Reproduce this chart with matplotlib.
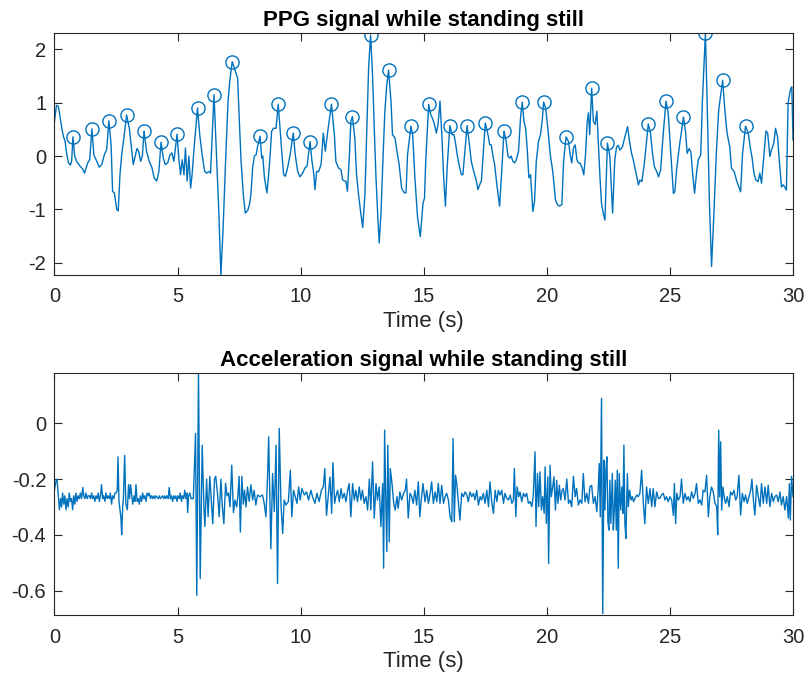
import numpy as np
import matplotlib
matplotlib.use("Agg")
import matplotlib.pyplot as plt

plt.rcParams['font.family'] = ['Liberation Sans', 'DejaVu Sans']
plt.rcParams['axes.unicode_minus'] = False

# ---------------- PPG signal (time s, value) ----------------
ppg_t = [0.00, 0.08, 0.16, 0.22, 0.30, 0.36, 0.43, 0.50, 0.57, 0.65, 0.70, 0.75, 0.82, 0.90, 1.04, 1.14, 1.22, 1.35, 1.43, 1.52,
         1.60, 1.72, 1.82, 1.92, 2.03, 2.12, 2.21, 2.30, 2.36, 2.43, 2.53, 2.59, 2.66, 2.73, 2.82, 2.93, 3.04, 3.14, 3.20, 3.28,
         3.35, 3.42, 3.50, 3.57, 3.64, 3.74, 3.85, 3.96, 4.05, 4.15, 4.24, 4.33, 4.42, 4.50, 4.60, 4.69, 4.77, 4.85, 4.98, 5.05,
         5.12, 5.19, 5.26, 5.32, 5.39, 5.46, 5.53, 5.59, 5.66, 5.81, 5.90, 6.00, 6.10, 6.18, 6.26, 6.34, 6.48, 6.58, 6.68, 6.76,
         6.85, 6.95, 7.05, 7.12, 7.22, 7.44, 7.51, 7.58, 7.67, 7.75, 7.85, 7.92, 7.98, 8.05, 8.12, 8.19, 8.25, 8.35, 8.42, 8.46,
         8.53, 8.63, 8.70, 8.76, 8.82, 8.89, 9.00, 9.09, 9.16, 9.23, 9.31, 9.38, 9.47, 9.57, 9.70, 9.78, 9.88, 9.97, 10.08, 10.18,
         10.26, 10.38, 10.46, 10.53, 10.58, 10.65, 10.73, 10.83, 10.92, 11.00, 11.10, 11.25, 11.37, 11.43, 11.53, 11.64, 11.70, 11.77, 11.84, 11.90,
         11.98, 12.04, 12.10, 12.20, 12.27, 12.35, 12.45, 12.52, 12.61, 12.69, 12.76, 12.84, 12.92, 12.99, 13.06, 13.13, 13.19, 13.26, 13.33, 13.42,
         13.50, 13.57, 13.67, 13.73, 13.83, 13.91, 14.00, 14.10, 14.21, 14.28, 14.34, 14.48, 14.55, 14.64, 14.75, 14.86, 14.93, 14.97, 15.03, 15.08,
         15.20, 15.28, 15.35, 15.42, 15.51, 15.58, 15.66, 15.74, 15.81, 15.88, 15.95, 16.06, 16.15, 16.23, 16.30, 16.36, 16.46, 16.53, 16.59, 16.66,
         16.76, 16.84, 16.93, 17.03, 17.14, 17.20, 17.27, 17.34, 17.41, 17.50, 17.61, 17.68, 17.74, 17.81, 17.88, 17.97, 18.08, 18.15, 18.26, 18.35,
         18.42, 18.49, 18.55, 18.62, 18.69, 18.76, 18.85, 18.93, 19.00, 19.07, 19.14, 19.20, 19.27, 19.34, 19.43, 19.50, 19.57, 19.66, 19.74, 19.81,
         19.87, 19.95, 20.04, 20.14, 20.24, 20.35, 20.43, 20.51, 20.61, 20.68, 20.78, 20.88, 20.95, 21.01, 21.08, 21.15, 21.22, 21.28, 21.35, 21.43,
         21.50, 21.57, 21.64, 21.69, 21.74, 21.82, 21.89, 21.96, 22.03, 22.09, 22.16, 22.22, 22.29, 22.36, 22.46, 22.56, 22.67, 22.76, 22.83, 22.90,
         22.97, 23.07, 23.17, 23.28, 23.35, 23.44, 23.51, 23.62, 23.72, 23.78, 23.86, 23.96, 24.12, 24.21, 24.29, 24.37, 24.46, 24.54, 24.62, 24.73,
         24.84, 24.93, 25.00, 25.07, 25.14, 25.20, 25.27, 25.38, 25.55, 25.64, 25.70, 25.78, 25.85, 25.92, 26.00, 26.08, 26.15, 26.25, 26.32, 26.44,
         26.51, 26.60, 26.69, 26.78, 26.89, 26.98, 27.14, 27.23, 27.32, 27.43, 27.50, 27.61, 27.70, 27.77, 27.87, 27.95, 28.07, 28.18, 28.27, 28.34,
         28.41, 28.49, 28.58, 28.65, 28.72, 28.81, 28.90, 28.97, 29.06, 29.12, 29.22, 29.29, 29.37, 29.43, 29.53, 29.60, 29.66, 29.73, 29.80, 29.89,
         29.95, 30.00]
ppg_v = [0.65, 0.95, 0.93, 0.75, 0.52, 0.37, 0.28, 0.03, -0.13, -0.17, -0.08, 0.36, 0.00, -0.10, -0.19, -0.24, -0.32, -0.13, -0.07, 0.51,
         0.02, -0.10, -0.21, -0.16, 0.03, 0.12, 0.66, 0.21, -0.66, -0.69, -1.00, -1.03, -0.35, 0.03, 0.34, 0.77, 0.52, 0.09, -0.16, 0.00,
         0.14, 0.09, -0.10, 0.00, 0.47, 0.09, -0.10, -0.22, -0.41, -0.47, -0.29, 0.26, -0.04, -0.16, -0.13, 0.02, 0.06, -0.10, 0.41, -0.04,
         -0.35, -0.07, -0.35, 0.15, -0.47, 0.00, -0.60, -0.35, 0.09, 0.90, 0.40, 0.02, -0.29, -0.32, -0.29, -0.32, 1.15, 0.02, -1.10, -2.23,
         -1.35, -0.10, 1.02, 1.40, 1.77, 1.46, 0.65, -0.10, -0.72, -1.07, -1.02, -0.91, -0.72, -0.22, 0.00, 0.02, 0.18, 0.37, -0.04, 0.00,
         -0.41, -0.69, -0.35, 0.02, 0.46, 0.52, 0.52, 0.97, 0.52, 0.09, -0.35, -0.38, -0.22, 0.02, 0.43, 0.02, -0.29, -0.39, -0.32, -0.22,
         -0.19, 0.27, -0.10, -0.32, -0.63, -0.29, -0.29, -0.16, 0.43, 0.09, 0.46, 0.97, 0.40, -0.10, -0.22, -0.26, -0.44, -0.47, -0.47, -0.66,
         0.02, 0.65, 0.74, 0.34, -0.35, -0.72, -1.10, -1.34, -0.72, 0.52, 1.65, 2.27, 1.52, 0.52, -0.41, -1.10, -1.63, -1.10, -0.22, 0.84,
         1.34, 1.61, 1.02, 0.40, 0.34, 0.09, -0.16, -0.60, -0.69, -0.69, 0.02, 0.56, 0.40, -0.41, -1.16, -1.51, -1.10, -0.88, -0.79, -0.10,
         0.97, 0.78, 0.71, 0.62, 0.43, 0.59, 1.03, 0.34, -0.41, -0.94, -0.22, 0.57, 0.40, 0.40, 0.21, 0.02, -0.22, -0.35, -0.35, 0.02,
         0.57, 0.27, -0.10, -0.29, -0.47, -0.63, -0.54, -0.47, 0.02, 0.62, 0.40, 0.21, 0.21, 0.00, -0.16, -0.54, -0.94, -0.41, 0.47, 0.27,
         0.00, -0.04, 0.00, -0.10, -0.13, -0.07, 0.09, 0.71, 1.01, 0.65, 0.52, 0.15, -0.41, -0.35, -1.04, -0.85, -0.10, 0.27, 0.40, 0.65,
         1.01, 0.90, 0.52, 0.02, -0.29, -0.82, -0.91, -0.94, -0.91, -0.10, 0.36, 0.27, 0.02, -0.13, 0.15, 0.21, -0.07, -0.13, -0.13, -0.22,
         -0.35, 0.02, 0.65, 0.81, 0.40, 1.27, 0.65, 0.59, 0.84, 0.27, -0.41, -0.89, -1.07, -1.20, 0.24, -0.01, -1.07, -0.07, 0.17, 0.20,
         0.11, 0.17, 0.36, 0.55, 0.30, 0.05, -0.07, -0.32, -0.54, -0.45, -0.48, -0.14, 0.60, 0.43, 0.05, -0.20, -0.29, -0.39, -0.26, 0.43,
         1.03, 0.80, 0.30, -0.20, -0.70, -0.67, -0.26, 0.17, 0.73, 0.43, 0.05, 0.14, 0.08, -0.32, -0.70, -0.32, -0.07, 0.02, 1.05, 2.30,
         1.05, -0.82, -2.07, -1.14, 0.11, 0.86, 1.42, 0.86, 0.43, 0.17, -0.23, -0.29, -0.45, -0.54, -0.67, 0.05, 0.56, 0.43, 0.14, -0.04,
         -0.32, -0.45, -0.48, -0.32, -0.51, -0.01, 0.47, 0.43, -0.01, 0.11, 0.24, 0.52, 0.36, -0.01, -0.58, -0.54, -0.58, -0.64, 0.99, 1.24,
         1.30, 0.30]

# detected peaks (time s, value)
peak_t = [0.75, 1.52, 2.21, 2.93, 3.64, 4.33, 4.98, 5.81, 6.48, 7.22, 8.35, 9.09, 9.70, 10.38, 11.25, 12.10, 12.84, 13.57,
          14.48, 15.20, 16.06, 16.76, 17.50, 18.26, 19.00, 19.87, 20.78, 21.82, 22.46, 24.12, 24.84, 25.55, 26.44, 27.14, 28.07]
peak_v = [0.36, 0.51, 0.66, 0.77, 0.47, 0.26, 0.41, 0.90, 1.15, 1.77, 0.37, 0.97, 0.43, 0.27, 0.97, 0.74, 2.27, 1.61,
          0.56, 0.97, 0.57, 0.57, 0.62, 0.47, 1.01, 1.01, 0.36, 1.27, 0.24, 0.60, 1.03, 0.73, 2.30, 1.42, 0.56]

# ---------------- Acceleration signal (time s, value) ----------------
acc_pairs = [
 (0.00,-0.24),(0.05,-0.21),(0.10,-0.20),(0.15,-0.25),(0.20,-0.31),(0.25,-0.27),(0.29,-0.30),(0.33,-0.25),(0.38,-0.29),(0.42,-0.26),
 (0.47,-0.31),(0.51,-0.27),(0.56,-0.30),(0.60,-0.25),(0.65,-0.28),(0.69,-0.27),(0.74,-0.31),(0.78,-0.26),(0.83,-0.29),(0.87,-0.25),
 (0.92,-0.28),(0.96,-0.26),(1.01,-0.27),(1.05,-0.25),(1.10,-0.27),(1.15,-0.23),(1.19,-0.26),(1.24,-0.27),(1.28,-0.25),(1.33,-0.27),
 (1.37,-0.26),(1.42,-0.26),(1.46,-0.27),(1.51,-0.25),(1.55,-0.27),(1.60,-0.26),(1.64,-0.28),(1.69,-0.26),(1.73,-0.27),(1.78,-0.25),
 (1.82,-0.28),(1.87,-0.26),(1.91,-0.22),(1.96,-0.27),(2.00,-0.26),(2.05,-0.28),(2.09,-0.25),(2.14,-0.27),(2.18,-0.26),(2.23,-0.27),
 (2.27,-0.25),(2.32,-0.29),(2.36,-0.26),(2.41,-0.27),(2.46,-0.25),(2.50,-0.25),(2.55,-0.24),(2.58,-0.12),(2.62,-0.28),(2.66,-0.31),
 (2.70,-0.34),(2.73,-0.40),(2.77,-0.30),(2.80,-0.27),(2.85,-0.115),(2.90,-0.29),(2.96,-0.31),(3.01,-0.22),(3.05,-0.27),(3.09,-0.22),
 (3.14,-0.26),(3.18,-0.29),(3.23,-0.26),(3.27,-0.28),(3.31,-0.22),(3.36,-0.28),(3.40,-0.27),(3.45,-0.29),(3.49,-0.26),(3.54,-0.28),
 (3.58,-0.25),(3.63,-0.27),(3.67,-0.26),(3.72,-0.28),(3.76,-0.25),(3.81,-0.26),(3.85,-0.25),(3.90,-0.27),(3.94,-0.26),(3.99,-0.27),
 (4.03,-0.26),(4.08,-0.27),(4.12,-0.26),(4.17,-0.265),(4.21,-0.27),(4.26,-0.26),(4.30,-0.27),(4.35,-0.265),(4.39,-0.26),(4.44,-0.27),
 (4.48,-0.26),(4.53,-0.27),(4.57,-0.26),(4.62,-0.27),(4.66,-0.23),(4.71,-0.27),(4.75,-0.26),(4.80,-0.28),(4.84,-0.26),(4.89,-0.27),
 (4.93,-0.26),(4.98,-0.28),(5.02,-0.26),(5.07,-0.27),(5.11,-0.25),(5.16,-0.28),(5.20,-0.26),(5.25,-0.27),(5.29,-0.24),(5.34,-0.27),
 (5.38,-0.25),(5.41,-0.32),(5.45,-0.26),(5.50,-0.25),(5.55,-0.27),(5.60,-0.27),(5.64,-0.27),(5.73,-0.036),(5.78,-0.617),(5.85,0.185),
 (5.92,-0.557),(6.00,-0.078),(6.07,-0.30),(6.11,-0.37),(6.18,-0.20),(6.24,-0.335),(6.31,-0.19),(6.38,-0.29),(6.43,-0.36),(6.50,-0.20),
 (6.55,-0.19),(6.62,-0.25),(6.69,-0.335),(6.76,-0.20),(6.82,-0.30),(6.88,-0.36),(6.95,-0.215),(7.01,-0.26),(7.07,-0.25),(7.13,-0.30),
 (7.20,-0.15),(7.27,-0.32),(7.33,-0.275),(7.40,-0.30),(7.45,-0.26),(7.50,-0.19),(7.55,-0.39),(7.61,-0.19),(7.67,-0.29),(7.72,-0.24),
 (7.78,-0.30),(7.84,-0.228),(7.91,-0.28),(7.98,-0.22),(8.05,-0.275),(8.11,-0.24),(8.18,-0.293),(8.25,-0.257),(8.34,-0.263),(8.45,-0.257),
 (8.52,-0.287),(8.59,-0.335),(8.66,-0.18),(8.70,-0.048),(8.79,-0.45),(8.86,-0.18),(8.93,-0.317),(9.00,-0.078),(9.06,-0.575),(9.13,-0.018),
 (9.20,-0.29),(9.27,-0.395),(9.33,-0.275),(9.40,-0.293),(9.50,-0.281),(9.58,-0.168),(9.64,-0.335),(9.71,-0.24),(9.78,-0.263),(9.85,-0.287),
 (9.92,-0.228),(9.98,-0.275),(10.05,-0.234),(10.15,-0.257),(10.24,-0.246),(10.32,-0.275),(10.42,-0.24),(10.48,-0.263),(10.58,-0.287),(10.66,-0.251),
 (10.75,-0.281),(10.84,-0.24),(10.92,-0.228),(10.98,-0.162),(11.05,-0.33),(11.12,-0.263),(11.19,-0.192),(11.26,-0.323),(11.31,-0.141),(11.38,-0.287),
 (11.43,-0.263),(11.50,-0.24),(11.57,-0.281),(11.64,-0.234),(11.70,-0.269),(11.77,-0.251),(11.84,-0.281),(11.91,-0.24),(11.97,-0.216),(12.04,-0.335),
 (12.11,-0.216),(12.18,-0.275),(12.24,-0.24),(12.31,-0.281),(12.38,-0.228),(12.45,-0.275),(12.51,-0.24),(12.58,-0.287),(12.65,-0.263),(12.72,-0.311),
 (12.79,-0.20),(12.85,-0.311),(12.92,-0.138),(12.99,-0.34),(13.06,-0.216),(13.12,-0.275),(13.19,-0.228),(13.26,-0.37),(13.33,-0.216),(13.37,-0.52),
 (13.41,-0.024),(13.46,-0.287),(13.50,-0.46),(13.54,-0.078),(13.60,-0.425),(13.64,-0.162),(13.71,-0.216),(13.78,-0.287),(13.84,-0.311),(13.91,-0.263),
 (13.96,-0.305),(14.03,-0.246),(14.10,-0.275),(14.18,-0.251),(14.25,-0.24),(14.30,-0.20),(14.37,-0.34),(14.44,-0.251),(14.51,-0.263),(14.57,-0.287),
 (14.64,-0.24),(14.71,-0.293),(14.78,-0.21),(14.84,-0.335),(14.91,-0.263),(14.97,-0.216),(15.05,-0.281),(15.12,-0.24),(15.19,-0.287),(15.26,-0.251),
 (15.32,-0.21),(15.39,-0.287),(15.46,-0.246),(15.53,-0.281),(15.59,-0.216),(15.66,-0.287),(15.73,-0.222),(15.80,-0.287),(15.87,-0.263),(15.93,-0.251),
 (16.00,-0.275),(16.07,-0.335),(16.14,-0.353),(16.19,-0.054),(16.24,-0.353),(16.29,-0.186),(16.34,-0.216),(16.41,-0.287),(16.47,-0.347),(16.54,-0.251),
 (16.61,-0.263),(16.68,-0.246),(16.75,-0.257),(16.81,-0.281),(16.88,-0.246),(16.95,-0.263),(17.02,-0.251),(17.08,-0.275),(17.15,-0.24),(17.22,-0.293),
 (17.29,-0.263),(17.35,-0.275),(17.42,-0.251),(17.49,-0.287),(17.56,-0.24),(17.63,-0.299),(17.69,-0.21),(17.76,-0.281),(17.83,-0.323),(17.90,-0.24),
 (17.97,-0.281),(18.03,-0.24),(18.10,-0.257),(18.17,-0.24),(18.24,-0.287),(18.30,-0.251),(18.37,-0.269),(18.44,-0.275),(18.51,-0.257),(18.58,-0.287),
 (18.64,-0.275),(18.68,-0.162),(18.74,-0.335),(18.79,-0.228),(18.86,-0.263),(18.91,-0.246),(18.98,-0.281),(19.05,-0.251),(19.12,-0.263),(19.18,-0.251),
 (19.25,-0.287),(19.32,-0.281),(19.39,-0.299),(19.45,-0.257),(19.52,-0.102),(19.56,-0.37),(19.62,-0.18),(19.67,-0.299),(19.72,-0.174),(19.78,-0.311),
 (19.83,-0.263),(19.89,-0.323),(19.93,-0.156),(19.98,-0.359),(20.04,-0.192),(20.07,-0.503),(20.13,-0.15),(20.18,-0.263),(20.24,-0.228),(20.29,-0.192),
 (20.35,-0.311),(20.40,-0.204),(20.45,-0.287),(20.51,-0.222),(20.56,-0.275),(20.62,-0.24),(20.67,-0.234),(20.74,-0.275),(20.81,-0.20),(20.88,-0.287),
 (20.94,-0.275),(21.01,-0.299),(21.08,-0.19),(21.15,-0.263),(21.21,-0.234),(21.28,-0.293),(21.35,-0.275),(21.42,-0.287),(21.48,-0.18),(21.55,-0.281),
 (21.62,-0.251),(21.69,-0.287),(21.75,-0.228),(21.82,-0.222),(21.89,-0.287),(21.96,-0.263),(22.03,-0.317),(22.09,-0.228),(22.13,-0.144),(22.17,-0.335),
 (22.22,0.09),(22.27,-0.683),(22.32,-0.132),(22.36,-0.311),(22.40,-0.168),(22.44,-0.12),(22.48,-0.353),(22.52,-0.383),(22.56,-0.204),(22.60,-0.359),
 (22.66,-0.18),(22.70,-0.383),(22.74,-0.311),(22.78,-0.204),(22.82,-0.383),(22.86,-0.168),(22.90,-0.52),(22.94,-0.18),(23.00,-0.311),(23.05,-0.228),
 (23.09,-0.323),(23.13,-0.078),(23.17,-0.359),(23.21,-0.413),(23.27,-0.18),(23.31,-0.299),(23.36,-0.24),(23.42,-0.275),(23.47,-0.263),(23.52,-0.281),
 (23.58,-0.269),(23.65,-0.257),(23.71,-0.263),(23.78,-0.251),(23.85,-0.168),(23.92,-0.287),(23.98,-0.36),(24.05,-0.228),(24.12,-0.287),(24.19,-0.234),
 (24.26,-0.299),(24.32,-0.234),(24.39,-0.299),(24.46,-0.246),(24.53,-0.269),(24.59,-0.269),(24.66,-0.257),(24.73,-0.251),(24.80,-0.275),(24.86,-0.263),
 (24.93,-0.281),(25.00,-0.263),(25.07,-0.275),(25.14,-0.33),(25.18,-0.216),(25.23,-0.36),(25.28,-0.251),(25.34,-0.275),(25.41,-0.263),(25.47,-0.20),
 (25.54,-0.287),(25.61,-0.251),(25.68,-0.275),(25.74,-0.263),(25.81,-0.281),(25.88,-0.246),(25.95,-0.269),(26.02,-0.251),(26.08,-0.216),(26.15,-0.287),
 (26.22,-0.275),(26.29,-0.293),(26.35,-0.24),(26.42,-0.246),(26.49,-0.186),(26.56,-0.335),(26.62,-0.263),(26.69,-0.228),(26.76,-0.246),(26.83,-0.287),
 (26.90,-0.299),(26.94,-0.40),(26.98,-0.024),(27.02,-0.263),(27.06,-0.066),(27.10,-0.311),(27.15,-0.228),(27.21,-0.269),(27.26,-0.287),(27.33,-0.263),
 (27.40,-0.299),(27.46,-0.246),(27.53,-0.257),(27.60,-0.24),(27.67,-0.275),(27.73,-0.263),(27.80,-0.186),(27.87,-0.329),(27.94,-0.251),(28.01,-0.281),
 (28.07,-0.257),(28.14,-0.287),(28.21,-0.263),(28.28,-0.24),(28.33,-0.20),(28.40,-0.287),(28.45,-0.329),(28.52,-0.222),(28.59,-0.263),(28.66,-0.299),
 (28.72,-0.216),(28.79,-0.287),(28.86,-0.228),(28.93,-0.287),(28.99,-0.222),(29.06,-0.299),(29.13,-0.251),(29.20,-0.281),(29.26,-0.263),(29.33,-0.257),
 (29.40,-0.281),(29.47,-0.246),(29.53,-0.293),(29.60,-0.263),(29.67,-0.311),(29.74,-0.263),(29.81,-0.34),(29.85,-0.216),(29.89,-0.347),(29.94,-0.19),
 (30.00,-0.263)]
acc_t = [p[0] for p in acc_pairs]
acc_v = [p[1] for p in acc_pairs]

titles = ["PPG signal while standing still", "Acceleration signal while standing still"]
xlabel = "Time (s)"
xticks = [0, 5, 10, 15, 20, 25, 30]
ppg_yticks = [-2, -1, 0, 1, 2]
acc_yticks = [-0.6, -0.4, -0.2, 0]

LINE = '#0072BD'
AX = '#262626'

fig = plt.figure(figsize=(8.07, 6.76), dpi=100)
ax1 = fig.add_axes([0.0675, 0.5932, 0.9152, 0.3575])
ax2 = fig.add_axes([0.0675, 0.0902, 0.9152, 0.3576])

ax1.plot(ppg_t, ppg_v, color=LINE, lw=1.0)
ax1.plot(peak_t, peak_v, 'o', mfc='none', mec=LINE, ms=9.5, mew=1.0)
ax1.set_ylim(min(ppg_v), max(ppg_v))
ax1.set_yticks(ppg_yticks)
ax1.set_yticklabels([str(v) for v in ppg_yticks])

ax2.plot(acc_t, acc_v, color=LINE, lw=1.0)
ax2.set_ylim(min(acc_v) - 0.005, max(acc_v) - 0.005)
ax2.set_yticks(acc_yticks)
ax2.set_yticklabels(['-0.6', '-0.4', '-0.2', '0'])

for ax, title in zip((ax1, ax2), titles):
    ax.set_xlim(0, 30)
    ax.set_xticks(xticks)
    ax.set_title(title, fontsize=16, fontweight='bold', color='black', pad=5)
    ax.set_xlabel(xlabel, fontsize=16, color=AX, labelpad=3)
    ax.tick_params(direction='in', length=6, width=0.8, top=True, right=True,
                   labelsize=14.5, colors=AX)
    ax.tick_params(axis='x', pad=9)
    ax.tick_params(axis='y', pad=6)
    for s in ax.spines.values():
        s.set_color(AX)
        s.set_linewidth(0.8)

fig.savefig('out.png', dpi=100)
